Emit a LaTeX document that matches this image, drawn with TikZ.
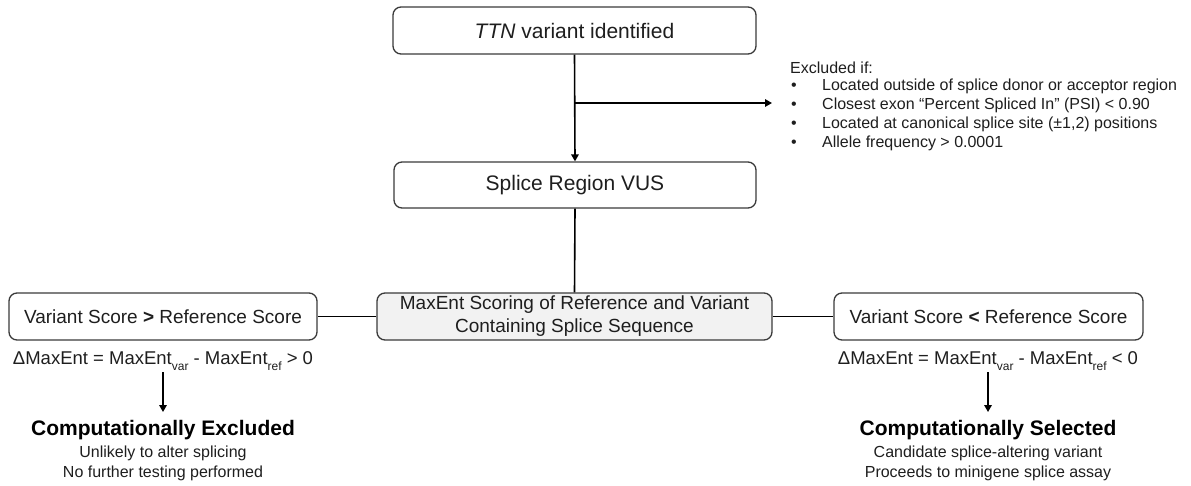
\documentclass[tikz,border=0pt]{standalone}
\usepackage{fontspec}
\setmainfont{Liberation Sans}
\usetikzlibrary{arrows.meta}
\definecolor{boxline}{HTML}{3A3A3A}
\definecolor{boxfill}{HTML}{F2F2F2}
\definecolor{ink}{HTML}{1E1E1E}
\newcommand{\fsz}[2]{\fontsize{#1}{#2}\selectfont}
\newcommand{\subt}[1]{\raisebox{-0.3em}{\fsz{12}{12}#1}}
\newcommand{\bul}{\makebox[32pt][l]{\hspace{1pt}•}}
\begin{document}
\begin{tikzpicture}[x=1pt,y=-1pt,
  box/.style={draw=boxline, line width=1.3pt, rounded corners=8pt, inner sep=0pt,
    align=center, text=ink, minimum height=47pt},
  bigtxt/.style={font=\fsz{21}{25}},
  midtxt/.style={font=\fsz{19}{23}},
  link/.style={line width=1.6pt, draw=black},
  arr/.style={link, -{Triangle[length=7pt,width=7.5pt]}},
  listline/.style={anchor=base west, inner sep=0pt, text=ink, font=\fsz{16}{19}},
  note/.style={inner sep=0pt, text=ink, font=\fsz{18.5}{22}},
  verdict/.style={inner sep=0pt, text=black, font=\fsz{21}{25}\bfseries},
  detail/.style={inner sep=0pt, text=ink, font=\fsz{16}{19}}]
\useasboundingbox (0,0) rectangle (1191,485);

% main column
\node[box, bigtxt, minimum width=363pt, minimum height=47pt] (ttn) at (574.5,30.5) {\textit{TTN} variant identified};
\node[box, bigtxt, minimum width=362pt, minimum height=46pt] (vus) at (575,185) {Splice Region VUS};
\node[box, midtxt, fill=boxfill, minimum width=395pt] (maxent) at (574.5,316.5)
  {MaxEnt Scoring of Reference and Variant\\Containing Splice Sequence};
\node[box, midtxt, minimum width=308pt] (gt) at (163,316.5) {Variant Score \textbf{>} Reference Score};
\node[box, midtxt, minimum width=309pt] (lt) at (988.5,316.5) {Variant Score \textbf{<} Reference Score};

% exclusion criteria
\node[listline] (ex0) at (790,73) {Excluded if:};
\node[listline] (ex1) at (790,90) {\bul Located outside of splice donor or acceptor region};
\node[listline] (ex2) at (790,109.2) {\bul Closest exon “Percent Spliced In” (PSI) < 0.90};
\node[listline] (ex3) at (790,128.4) {\bul Located at canonical splice site (±1,2) positions};
\node[listline] (ex4) at (790,147.6) {\bul Allele frequency > 0.0001};

% score differences
\node[note] (dgt) at (163,361) {ΔMaxEnt = MaxEnt\subt{var} - MaxEnt\subt{ref} > 0};
\node[note] (dlt) at (988,361) {ΔMaxEnt = MaxEnt\subt{var} - MaxEnt\subt{ref} < 0};

% outcomes
\node[verdict] (excl) at (163,430) {Computationally Excluded};
\node[detail] (excl1) at (163,453.5) {Unlikely to alter splicing};
\node[detail] (excl2) at (163,473) {No further testing performed};
\node[verdict] (sel) at (988,430) {Computationally Selected};
\node[detail] (sel1) at (988,453.5) {Candidate splice-altering variant};
\node[detail] (sel2) at (988,473) {Proceeds to minigene splice assay};

% connectors
\coordinate (branch) at (ttn.south |- 0,103);
\draw[arr] (ttn.south) -- (vus.north);
\draw[arr] (branch) -- (branch -| ex2.west) [shorten >=18pt];
\draw[link] (vus.south) -- (maxent.north);
\draw[link] (maxent.west) -- (gt.east);
\draw[link] (maxent.east) -- (lt.west);
\draw[arr, shorten <=2pt, shorten >=8pt] (dgt.south) -- (excl.north);
\draw[arr, shorten <=2pt, shorten >=8pt] (dlt.south) -- (sel.north);
\end{tikzpicture}
\end{document}
